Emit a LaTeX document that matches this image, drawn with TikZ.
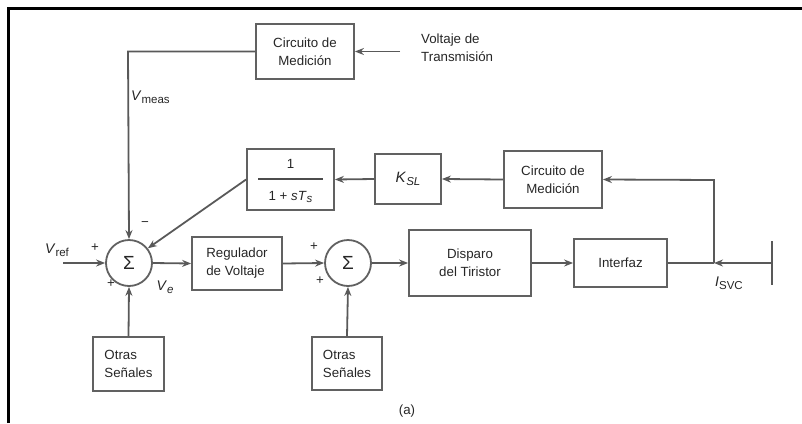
\documentclass[tikz,border=0pt]{standalone}
\usepackage{fontspec}
\setmainfont{Liberation Sans}
\usetikzlibrary{arrows.meta}
\newcommand{\subsz}{\fontsize{11.5}{13}\selectfont}
\newcommand{\lowsub}[1]{\raisebox{-0.4ex}{\subsz #1}}
\begin{document}
\begin{tikzpicture}[x=1pt,y=-1pt,
  every node/.style={font=\fontsize{13.3}{18}\selectfont, text=black!85},
  blk/.style={draw=black!62, line width=1.8pt, inner sep=0pt, align=center},
  blkl/.style={blk, align=left},
  sumnode/.style={draw=black!62, line width=1.8pt, circle, minimum size=46pt, inner sep=0pt, font=\fontsize{19}{20}\selectfont},
  conn/.style={draw=black!65, line width=1.8pt},
  arr/.style={conn, -{Stealth[length=9pt,width=7pt]}},
  lbl/.style={inner sep=0pt}
]
\useasboundingbox (0,0) rectangle (802,423);
% frame
\draw[line width=3pt, black] (8,423) -- (8,8) -- (802,8);

% nodes
\node[blk, minimum width=98pt, minimum height=55pt] (cm1) at (305,51.5) {Circuito de\\Medición};
\node[lbl, align=left, anchor=west] (vt) at (421,47.5) {Voltaje de\\Transmisión};
\coordinate (vtin) at (400,51.5);

\node[sumnode] (s1) at (129,263) {Σ};
\node[sumnode] (s2) at (348,263) {Σ};

\node[blk, minimum width=87pt, minimum height=61pt] (tf) at (290.5,179.5) {};
\node[lbl] (tfn) at (290.5,164) {1};
\node[lbl] (tfd) at (290.5,197) {1 + \textit{sT}\lowsub{\textit{s}}};
\draw[line width=1.5pt, black!70] (258,179) -- (323,179);

\node[blk, minimum width=66pt, minimum height=50pt] (ksl) at (408,179) {\fontsize{15}{18}\selectfont\textit{K}\lowsub{\textit{SL}}};
\node[blk, minimum width=98pt, minimum height=57pt] (cm2) at (553,179.5) {Circuito de\\Medición};

\node[blkl, minimum width=90pt, minimum height=53pt] (reg) at (237,263.5) {Regulador\\de Voltaje};
\node[blk, minimum width=122pt, minimum height=66pt] (disp) at (470,263) {Disparo\\del Tiristor};
\node[blk, minimum width=93pt, minimum height=48pt] (intf) at (620.5,263) {Interfaz};

\node[blkl, minimum width=71pt, minimum height=54pt] (o1) at (128.5,364) {Otras\\Señales};
\node[blkl, minimum width=70pt, minimum height=53pt] (o2) at (347,363.5) {Otras\\Señales};

\coordinate (vref) at (63,263);
\coordinate (jn) at (714,263);
\coordinate (jtop) at (714,180);
\coordinate (bus) at (772,263);
\coordinate (bust) at (772,241);
\coordinate (busb) at (772,285);
\coordinate (corner) at (128,51.5);

% labels
\node[lbl] (lvref) at (57,250) {\fontsize{14}{16}\selectfont\textit{V}\lowsub{ref}};
\node[lbl, anchor=west] (lvmeas) at (131,97) {\fontsize{14}{16}\selectfont\textit{V}\lowsub{meas}};
\node[lbl] (p1) at (95,248) {+};
\node[lbl] (p2) at (111,284) {+};
\node[lbl] (m1) at (145,224) {−};
\node[lbl] (lve) at (165,287) {\fontsize{14}{16}\selectfont\textit{V}\lowsub{\textit{e}}};
\node[lbl] (p3) at (314,247) {+};
\node[lbl] (p4) at (320,281) {+};
\node[lbl] (lisvc) at (729,283) {\fontsize{14}{16}\selectfont\textit{I}\lowsub{SVC}};
\node[lbl] (cap) at (407,411) {(a)};

% connectors
\draw[arr] (vtin) -- (cm1.east);
\draw[arr] (cm1.west) -- (corner) -- (s1.north);
\draw[arr] (tf.west) -- (s1.38);
\draw[arr] (ksl.west) -- (tf.east);
\draw[arr] (cm2.west) -- (ksl.east);
\draw[arr] (jn) -- (jtop) -- (cm2.east);
\draw[arr] (vref) -- (s1.west);
\draw[arr] (s1.east) -- (reg.west);
\draw[arr] (reg.east) -- (s2.west);
\draw[arr] (s2.east) -- (disp.west);
\draw[arr] (disp.east) -- (intf.west);
\draw[conn] (intf.east) -- (jn);
\draw[arr] (bus) -- (jn);
\draw[conn] (bust) -- (busb);
\draw[arr] (o1.north) -- (s1.south);
\draw[arr] (o2.north) -- (s2.south);
\end{tikzpicture}
\end{document}
